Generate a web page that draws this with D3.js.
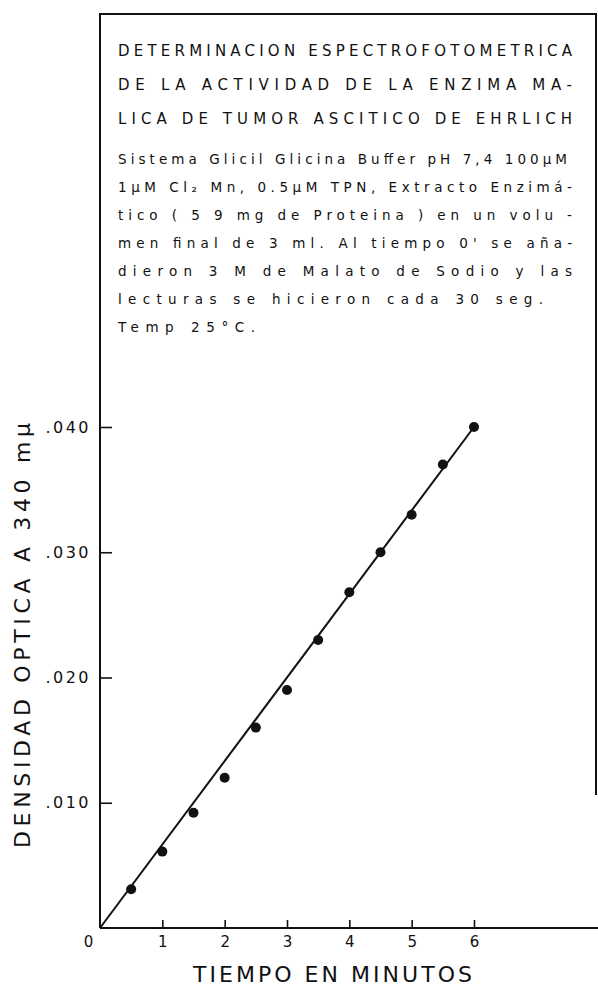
<!DOCTYPE html>
<html>
<head>
<meta charset="utf-8">
<script src="https://cdn.jsdelivr.net/npm/d3@7/dist/d3.min.js"></script>
<style>
  body { margin: 0; background: #fff; }
  svg { display: block; }
  text { font-family: "DejaVu Sans", sans-serif; fill: #111; }
</style>
</head>
<body>
<svg id="chart" width="598" height="995"></svg>
<script>
// lecturas cada 30 seg (minutos / densidad optica a 340 mµ)
var tiempo = [0.5, 1, 1.5, 2, 2.5, 3, 3.5, 4, 4.5, 5, 5.5, 6];
var densidad = [0.0031, 0.0061, 0.0092, 0.0120, 0.0160, 0.0190, 0.0230, 0.0268, 0.0300, 0.0330, 0.0370, 0.0400];

// recta trazada
var rectaTiempo = [0, 6];
var rectaDensidad = [0, 0.0400];

var xTicks = [0, 1, 2, 3, 4, 5, 6];
var yTicks = [0.010, 0.020, 0.030, 0.040];
var yTickLabels = ['.010', '.020', '.030', '.040'];

var titulo = [
  'DETERMINACION ESPECTROFOTOMETRICA',
  'DE LA ACTIVIDAD DE LA ENZIMA MA-',
  'LICA DE TUMOR ASCITICO DE EHRLICH'
];
var nota = [
  'Sistema Glicil Glicina Buffer pH 7,4 100µM',
  '1µM Cl₂ Mn, 0.5µM TPN, Extracto Enzimá-',
  'tico ( 5 9 mg de Proteina ) en un volu -',
  'men final de 3 ml. Al tiempo 0\' se aña-',
  'dieron 3 M de Malato de Sodio y las',
  'lecturas se hicieron cada 30 seg.',
  'Temp 25°C.'
];
var xTitle = 'TIEMPO EN MINUTOS';
var yTitle = 'DENSIDAD OPTICA A 340 mµ';

(function() {
  var svg = d3.select('#chart');

  var x = d3.scaleLinear().domain([0, 6]).range([100, 474]);
  var y = d3.scaleLinear().domain([0, 0.04]).range([928, 427]);

  // marco del recuadro de texto + ejes
  svg.append('path')
    .attr('d', 'M100,928 L100,14 L596,14 L596,795')
    .attr('fill', 'none')
    .attr('stroke', '#111')
    .attr('stroke-width', 2);
  svg.append('line')
    .attr('x1', 100).attr('x2', 598)
    .attr('y1', y(0)).attr('y2', y(0))
    .attr('stroke', '#111')
    .attr('stroke-width', 2);

  // titulo
  svg.selectAll('text.titulo')
    .data(titulo)
    .enter().append('text')
      .attr('class', 'titulo')
      .attr('x', 118)
      .attr('y', function(d, i) { return 56 + i * 34; })
      .attr('font-size', 15)
      .attr('textLength', 454)
      .attr('lengthAdjust', 'spacing')
      .text(function(d) { return d; });

  // nota
  var notaAncho = [449, 454, 454, 454, 454, 425, 137];
  svg.selectAll('text.nota')
    .data(nota)
    .enter().append('text')
      .attr('class', 'nota')
      .attr('x', 118)
      .attr('y', function(d, i) { return 164 + i * 28; })
      .attr('font-size', 13.5)
      .attr('textLength', function(d, i) { return notaAncho[i]; })
      .attr('lengthAdjust', 'spacing')
      .text(function(d) { return d; });

  // eje x
  var xAxis = d3.axisBottom(x)
    .tickValues(xTicks)
    .tickSizeInner(-8)
    .tickSizeOuter(0)
    .tickPadding(8)
    .tickFormat(d3.format('d'));
  var gx = svg.append('g')
    .attr('transform', 'translate(0,' + y(0) + ')')
    .call(xAxis);
  gx.select('.domain').remove();
  gx.selectAll('.tick line').attr('stroke', '#111').attr('stroke-width', 1.6);
  gx.selectAll('.tick text')
    .attr('font-size', 15)
    .attr('fill', '#111')
    .style('font-family', '"DejaVu Sans", sans-serif');
  gx.selectAll('.tick').filter(function(d) { return d === 0; })
    .each(function() {
      d3.select(this).select('line').remove();
      d3.select(this).select('text').attr('dx', -12);
    });

  // eje y
  var yAxis = d3.axisLeft(y)
    .tickValues(yTicks)
    .tickSizeInner(-12)
    .tickSizeOuter(0)
    .tickPadding(9)
    .tickFormat(function(d, i) { return yTickLabels[i]; });
  var gy = svg.append('g')
    .attr('transform', 'translate(' + x(0) + ',0)')
    .call(yAxis);
  gy.select('.domain').remove();
  gy.selectAll('.tick line').attr('stroke', '#111').attr('stroke-width', 1.6);
  gy.selectAll('.tick text')
    .attr('font-size', 16)
    .attr('fill', '#111')
    .attr('letter-spacing', 2.5)
    .style('font-family', '"DejaVu Sans", sans-serif');

  // recta
  var linea = d3.line()
    .x(function(d) { return x(d[0]); })
    .y(function(d) { return y(d[1]); });
  svg.append('path')
    .datum(d3.zip(rectaTiempo, rectaDensidad))
    .attr('d', linea)
    .attr('fill', 'none')
    .attr('stroke', '#111')
    .attr('stroke-width', 2);

  // puntos
  svg.selectAll('circle.punto')
    .data(d3.zip(tiempo, densidad))
    .enter().append('circle')
      .attr('class', 'punto')
      .attr('cx', function(d) { return x(d[0]); })
      .attr('cy', function(d) { return y(d[1]); })
      .attr('r', 5)
      .attr('fill', '#111');

  // titulos de ejes
  svg.append('text')
    .attr('x', 193)
    .attr('y', 982)
    .attr('font-size', 22)
    .attr('textLength', 279)
    .attr('lengthAdjust', 'spacing')
    .text(xTitle);

  svg.append('text')
    .attr('transform', 'translate(30,848) rotate(-90)')
    .attr('font-size', 22)
    .attr('textLength', 425)
    .attr('lengthAdjust', 'spacing')
    .text(yTitle);
})();
</script>
</body>
</html>
